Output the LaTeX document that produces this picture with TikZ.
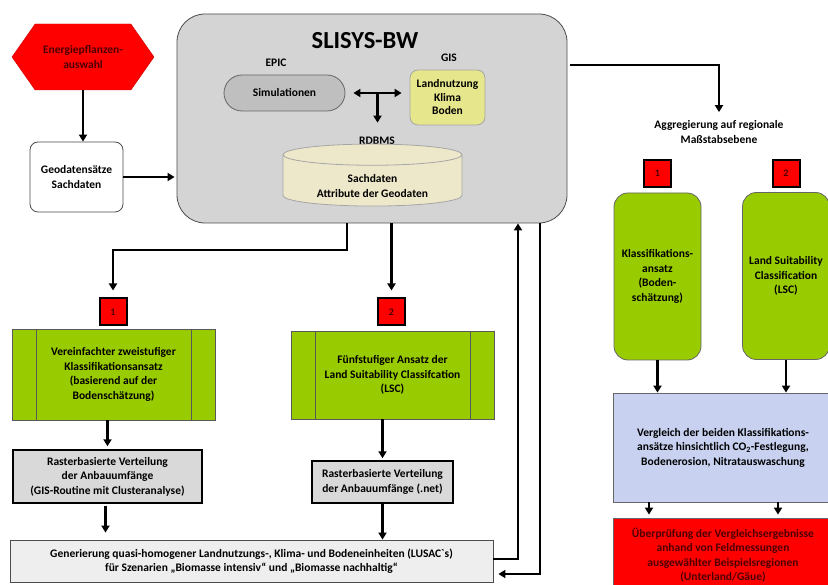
\documentclass[tikz,border=0pt]{standalone}
\usepackage{fontspec}
\setmainfont{Carlito}
\usetikzlibrary{shapes.geometric, shapes.symbols, arrows.meta, positioning, calc}

\definecolor{slisysgray}{RGB}{212,212,212}
\definecolor{simgray}{RGB}{191,191,191}
\definecolor{gisyellow}{RGB}{230,230,140}
\definecolor{dbbeige}{RGB}{238,232,202}
\definecolor{boxgreen}{RGB}{153,204,0}
\definecolor{rastergray}{RGB}{217,217,217}
\definecolor{lusacgray}{RGB}{238,238,238}
\definecolor{vglblue}{RGB}{200,210,240}
\definecolor{darkred}{RGB}{75,0,0}

\tikzset{
    arr/.style={-{Triangle[length=7pt,width=8pt]}, line width=2.2pt},
    darr/.style={{Triangle[length=7pt,width=8pt]}-{Triangle[length=7pt,width=8pt]}, line width=2.2pt},
    txt/.style={align=center, font=\bfseries\fontsize{11.5}{14.5}\selectfont},
    lbl/.style={font=\bfseries\fontsize{11.5}{13}\selectfont},
    numbox/.style={draw=black, line width=2pt, fill=red, minimum width=27pt, minimum height=27pt,
        inner sep=0pt, text=darkred, font=\bfseries\fontsize{10}{10}\selectfont},
    hexbox/.style={txt, signal, signal to=west and east, signal pointer angle=110, fill=red,
        draw=red!80!black, text=darkred, minimum width=142pt, minimum height=66pt, inner sep=0pt},
    whitebox/.style={txt, draw=black!70, fill=white, rounded corners=8pt, line width=0.8pt,
        minimum width=93pt, minimum height=70pt},
    sysbox/.style={draw=black!70, fill=slisysgray, rounded corners=28pt, line width=0.8pt,
        minimum width=390pt, minimum height=209pt},
    simbox/.style={txt, draw=black!60, fill=simgray, rounded corners=18pt, line width=0.8pt,
        minimum width=121pt, minimum height=36pt},
    gisbox/.style={txt, draw=black!35, fill=gisyellow, rounded corners=8pt, line width=0.8pt,
        minimum width=75pt, minimum height=55pt, inner xsep=1pt, font=\bfseries\fontsize{11.5}{13.5}\selectfont},
    dbbox/.style={txt, cylinder, shape border rotate=90, aspect=0.18, draw=black!35, inner ysep=0pt,
        line width=0.8pt, minimum width=179pt, minimum height=62pt, cylinder uses custom fill,
        cylinder body fill=dbbeige, cylinder end fill=dbbeige},
    greenbox/.style={txt, draw=black!65, fill=boxgreen, line width=0.8pt,
        path picture={
            \draw[black!65, line width=0.8pt]
                ([xshift=24pt]path picture bounding box.south west) -- ([xshift=24pt]path picture bounding box.north west)
                ([xshift=-24pt]path picture bounding box.south east) -- ([xshift=-24pt]path picture bounding box.north east);
        }},
    klassbox/.style={txt, draw=black!60, fill=boxgreen, rounded corners=14pt, line width=0.8pt,
        minimum width=87pt, minimum height=167pt, inner xsep=1pt},
    rasterbox/.style={txt, draw=black, fill=rastergray, line width=1.4pt},
    lusacbox/.style={txt, draw=black!70, fill=lusacgray, line width=0.8pt,
        minimum width=483pt, minimum height=42pt},
    vglbox/.style={txt, draw=black!60, fill=vglblue, line width=0.8pt,
        minimum width=220pt, minimum height=109pt},
    pruefbox/.style={txt, draw=black!60, fill=red, text=darkred, line width=0.8pt,
        minimum width=220pt, minimum height=74pt}
}

\begin{document}
\begin{tikzpicture}[x=1pt, y=-1pt]
    \useasboundingbox[fill=white] (0,0) rectangle (828,585);

    % Input data
    \node[hexbox] (energie) at (83,57) {Energiepflanzen-\\auswahl};
    \node[whitebox] (geo) at (76.5,177) {Geodatensätze\\Sachdaten};

    % SLISYS-BW system
    \node[sysbox] (slisys) at (372,118.5) {};
    \node[font=\bfseries\fontsize{24.5}{26}\selectfont] (title) at (365,41) {SLISYS-BW};
    \node[lbl] (epiclbl) at (276,63) {EPIC};
    \node[simbox] (sim) at (284.5,93) {Simulationen};
    \node[lbl] (gislbl) at (449,58) {GIS};
    \node[gisbox] (gis) at (447.5,97.5) {Landnutzung\\Klima\\Boden};
    \node[lbl] (rdbmslbl) at (377,141) {RDBMS};
    \node[dbbox] (db) at (372.5,182) {\rule{0pt}{16pt}Sachdaten\\Attribute der Geodaten};

    \draw[darr] ([xshift=8pt]sim.east) -- ([xshift=-8pt]gis.west |- sim.east);
    \coordinate (tee) at ($(sim.east)!0.5!(gis.west |- sim.east)$);
    \draw[arr, shorten >=11pt] (tee) -- (tee |- rdbmslbl.north);

    \draw[arr] (energie.south) -- (energie.south |- geo.north);
    \draw[arr, shorten >=2pt] (geo.east) -- (geo.east -| slisys.west);

    % Numbered markers
    \foreach \nm/\x/\y/\num in {n1l/113/312/1, n2l/391.5/312/2, n1r/657.5/173.5/1, n2r/786/173.5/2} {
        \node[numbox] (\nm) at (\x,\y) {\num};
    }

    % Classification approaches (left)
    \node[greenbox, minimum width=203pt, minimum height=91pt] (ansatz1) at (113.5,374.5)
        {Vereinfachter zweistufiger\\Klassifikationsansatz\\(basierend auf der\\Bodenschätzung)};
    \node[greenbox, minimum width=203pt, minimum height=88pt] (ansatz2) at (392.5,375)
        {Fünfstufiger Ansatz der\\Land Suitability Classifcation\\(LSC)};

    \draw[arr, shorten >=7pt] ([xshift=-25pt]slisys.south) -- ++(0,27) -| (n1l.north);
    \draw[arr, shorten >=7pt] (slisys.south -| n2l.north) -- (n2l.north);

    % Raster distribution
    \node[rasterbox, minimum width=189pt, minimum height=53pt] (raster1) at (107.5,476.5)
        {Rasterbasierte Verteilung\\der Anbauumfänge\\(GIS-Routine mit Clusteranalyse)};
    \node[rasterbox, minimum width=141pt, minimum height=42pt] (raster2) at (382.5,482)
        {Rasterbasierte Verteilung\\der Anbauumfänge (.net)};
    \node[lusacbox] (lusac) at (251.5,561)
        {Generierung quasi-homogener Landnutzungs-, Klima- und Bodeneinheiten (LUSAC\textasciigrave s)\\
         für Szenarien „Biomasse intensiv“ und „Biomasse nachhaltig“};

    \draw[arr, shorten >=3pt] (ansatz1.south -| raster1.north) -- (raster1.north);
    \draw[arr, shorten >=2pt] (ansatz2.south -| raster2.north) -- (raster2.north);
    \draw[arr, shorten <=2pt, shorten >=7pt] ([xshift=-2pt]raster1.south) -- ([xshift=-2pt]raster1.south |- lusac.north);
    \draw[arr] (raster2.south) -- (raster2.south |- lusac.north);

    % Feedback loop
    \draw[arr] ([yshift=2pt]lusac.east) -| ([xshift=146pt]slisys.south);
    \draw[arr, shorten >=5pt] ([xshift=168pt]slisys.south) |- ([yshift=-13pt]lusac.east);

    % Regional comparison (right)
    \node[txt] (agg) at (719,132) {Aggregierung auf regionale\\Maßstabsebene};
    \draw[arr, shorten >=5pt] ([xshift=3pt, yshift=53.5pt]slisys.east) -| (agg.north);

    \node[klassbox] (klass) at (657.5,276.5) {Klassifikations-\\ansatz\\(Boden-\\schätzung)};
    \node[klassbox] (lsc) at (786,276) {Land Suitability\\Classification\\(LSC)};
    \node[vglbox] (vgl) at (723,447.5)
        {Vergleich der beiden Klassifikations-\\ansätze hinsichtlich CO\textsubscript{2}-Festlegung,\\Bodenerosion, Nitratauswaschung};
    \node[pruefbox] (pruef) at (723,555)
        {Überprüfung der Vergleichsergebnisse\\anhand von Feldmessungen\\ausgewählter Beispielsregionen\\(Unterland/Gäue)};

    \draw[arr] (klass.south) -- (klass.south |- vgl.north);
    \draw[arr] (lsc.south) -- (lsc.south |- vgl.north);
    \draw[arr, shorten >=3pt] ([xshift=-74pt]vgl.south) -- ([xshift=-74pt]pruef.north);
    \draw[arr, shorten >=3pt] ([xshift=55pt]vgl.south) -- ([xshift=55pt]pruef.north);
\end{tikzpicture}
\end{document}
